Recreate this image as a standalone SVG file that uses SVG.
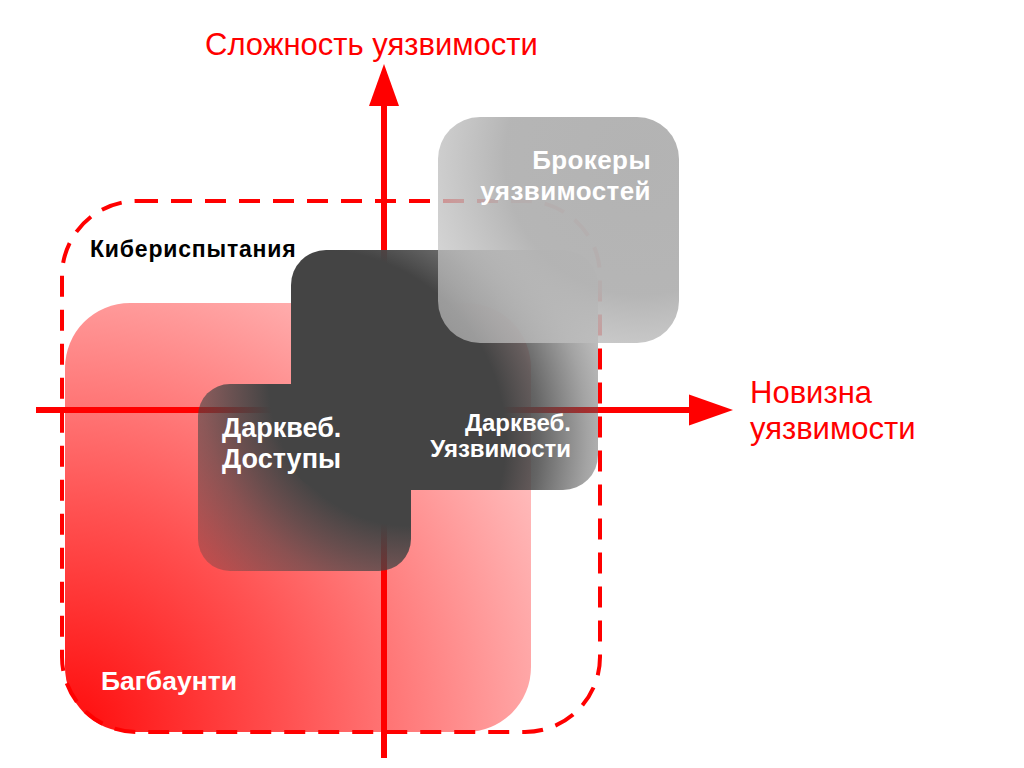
<svg xmlns="http://www.w3.org/2000/svg" width="1024" height="768" viewBox="0 0 1024 768">
<style>
.axis{stroke:#ff0000;stroke-width:6;fill:none}
.head{fill:#ff0000}
.axlbl{font-family:"Liberation Sans",Arial,sans-serif;font-size:31px;fill:#ff0000}
.wl{font-family:"Liberation Sans",Arial,sans-serif;font-weight:bold;fill:#ffffff}
.bl{font-family:"Liberation Sans",Arial,sans-serif;font-weight:bold;fill:#000000}
.dash{fill:none;stroke:#ff0000;stroke-width:4;stroke-dasharray:21 13}
</style>
<defs>
<radialGradient id="gRed" gradientUnits="userSpaceOnUse" cx="65" cy="732" r="560">
<stop offset="0" stop-color="#ff0a0a"/>
<stop offset="0.4" stop-color="#ff5252"/>
<stop offset="1" stop-color="#ffc6c6"/>
</radialGradient>
<radialGradient id="gDarkA" gradientUnits="userSpaceOnUse" cx="411" cy="384" r="280">
<stop offset="0" stop-color="#444444" stop-opacity="1"/>
<stop offset="0.507" stop-color="#444444" stop-opacity="1"/>
<stop offset="0.64" stop-color="#444444" stop-opacity="0.8"/>
<stop offset="0.75" stop-color="#444444" stop-opacity="0.62"/>
<stop offset="0.98" stop-color="#444444" stop-opacity="0.32"/>
<stop offset="1" stop-color="#444444" stop-opacity="0.3"/>
</radialGradient>
<radialGradient id="gDarkB" gradientUnits="userSpaceOnUse" cx="315" cy="440" r="340">
<stop offset="0" stop-color="#444444" stop-opacity="1"/>
<stop offset="0.56" stop-color="#444444" stop-opacity="1"/>
<stop offset="0.66" stop-color="#4a4a4a" stop-opacity="0.85"/>
<stop offset="0.8" stop-color="#555555" stop-opacity="0.54"/>
<stop offset="1" stop-color="#888888" stop-opacity="0.3"/>
</radialGradient>
<radialGradient id="gBroker" gradientUnits="userSpaceOnUse" cx="640" cy="160" r="300">
<stop offset="0" stop-color="#b3b3b3" stop-opacity="1"/>
<stop offset="0.45" stop-color="#b3b3b3" stop-opacity="0.97"/>
<stop offset="1" stop-color="#d2d2d2" stop-opacity="0.5"/>
</radialGradient>
</defs>

<g id="bugbounty">
<rect x="65" y="303" width="466" height="429" rx="65" fill="url(#gRed)"/>
</g>

<g id="connectors">
<line class="axis" x1="384" y1="758" x2="384" y2="100"/>
<polygon class="head" points="384,64 399,106 369,106"/>
<line class="axis" x1="36" y1="410" x2="695" y2="410"/>
<polygon class="head" points="733,410 689,394.5 689,425.5"/>
</g>

<g id="cybertests">
<rect class="dash" x="62" y="201" width="538" height="531" rx="75"/>
<text class="bl" x="90" y="257" font-size="23" letter-spacing="0.8">Кибериспытания</text>
</g>

<g id="darkweb-access-box">
<rect x="198" y="384" width="213" height="187" rx="32" fill="url(#gDarkA)"/>
</g>

<g id="darkweb-vulns-box">
<rect x="291" y="250" width="307" height="240" rx="35" fill="url(#gDarkB)"/>
</g>

<g id="brokers">
<rect x="438" y="117" width="241" height="226" rx="42" fill="url(#gBroker)"/>
<text class="wl" font-size="26" letter-spacing="0.4" text-anchor="end" x="651" y="169">Брокеры</text>
<text class="wl" font-size="26" letter-spacing="0.4" text-anchor="end" x="651" y="200">уязвимостей</text>
</g>

<g id="darkweb-access">
<text class="wl" font-size="27" x="222" y="437">Дарквеб.</text>
<text class="wl" font-size="27" x="222" y="468">Доступы</text>
</g>

<g id="darkweb-vulns">
<text class="wl" font-size="24" text-anchor="end" x="571" y="431">Дарквеб.</text>
<text class="wl" font-size="24" text-anchor="end" x="571" y="457">Уязвимости</text>
</g>

<g id="bugbounty-label">
<text class="wl" font-size="26.5" x="101" y="690">Багбаунти</text>
</g>

<g id="axis-labels">
<text class="axlbl" x="205" y="55">Сложность уязвимости</text>
<text class="axlbl" x="750" y="403">Новизна</text>
<text class="axlbl" x="750" y="439">уязвимости</text>
</g>
</svg>
